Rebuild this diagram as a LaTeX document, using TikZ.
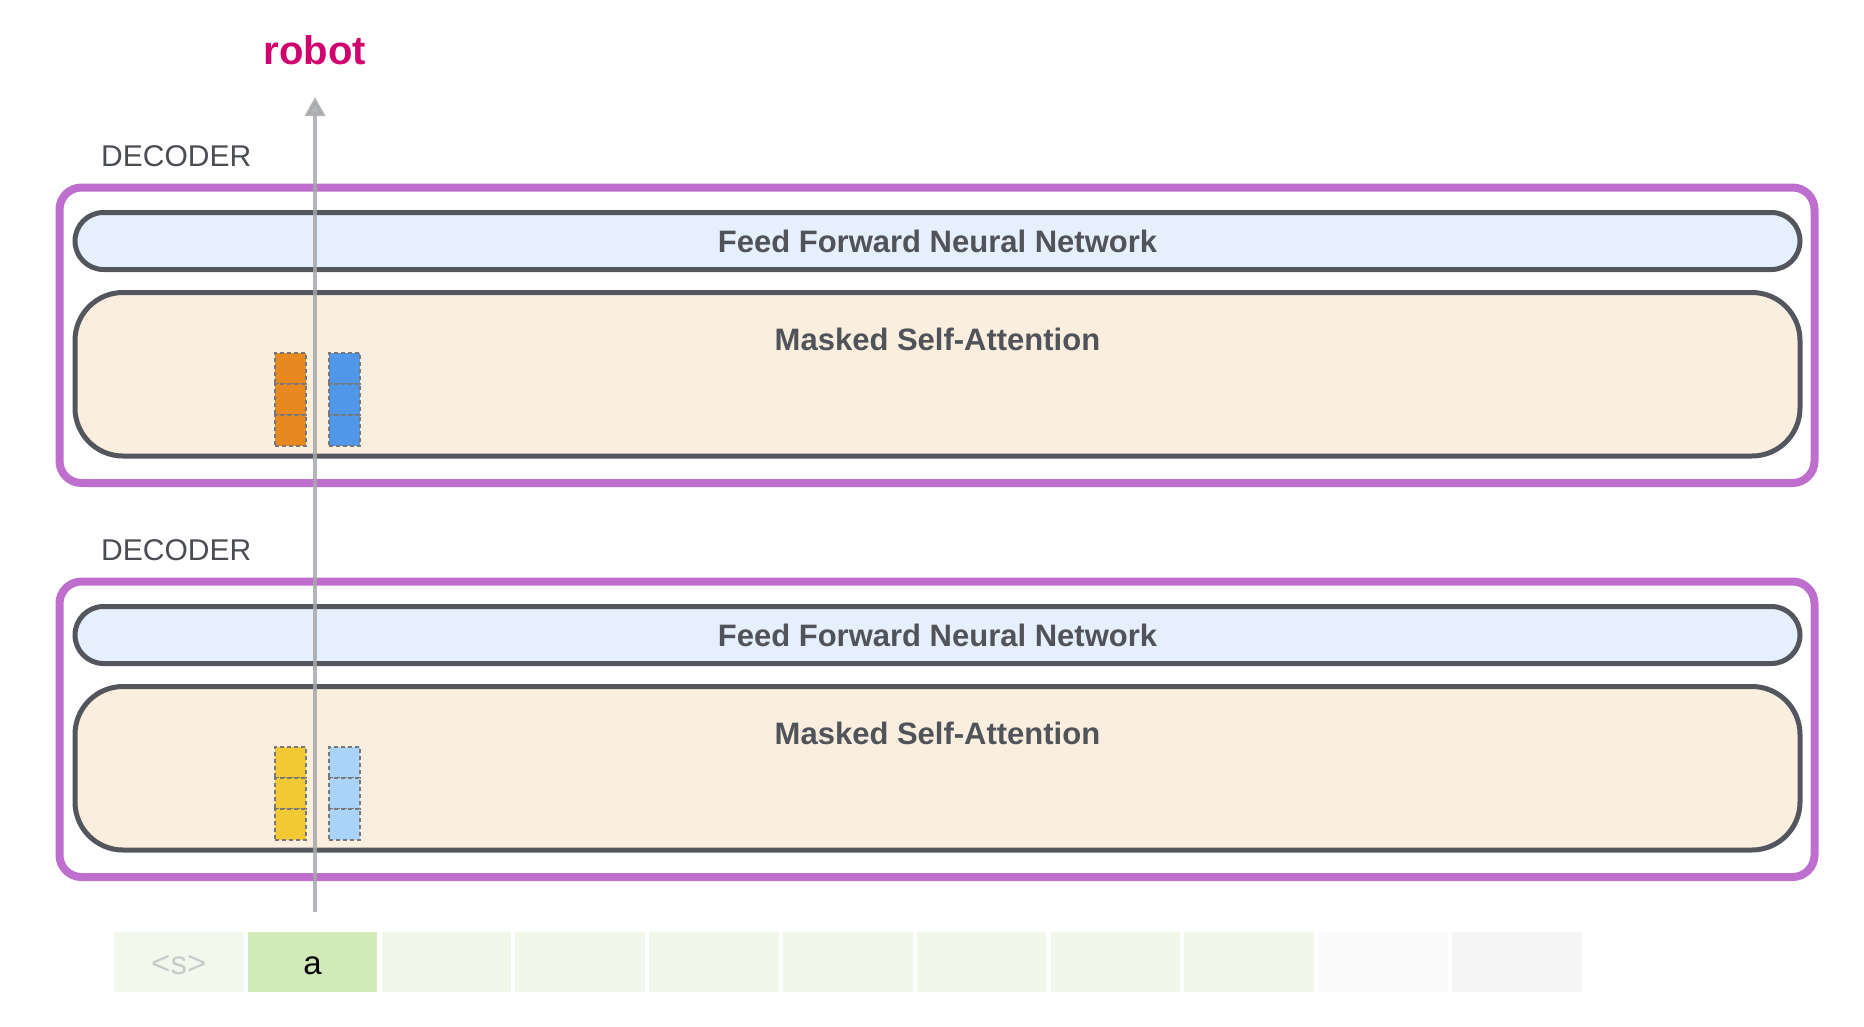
\documentclass[tikz,border=0pt]{standalone}
\usepackage{fontspec}
\setmainfont{Liberation Sans}
\usetikzlibrary{arrows.meta}

\begin{document}
\begin{tikzpicture}[x=1pt, y=-1pt,
        decoderbox/.style={draw=Pcolor, line width=8pt, rounded corners=22pt, minimum width=1755pt, minimum height=295.5pt, inner sep=0pt},
        ffnnbox/.style={draw=Ecolor, fill=Fcolor, line width=5pt, rounded corners=28.5pt, minimum width=1725pt, minimum height=57pt, inner sep=0pt, text=Tcolor, font=\fontsize{31}{37}\selectfont\bfseries},
        msabox/.style={draw=Ecolor, fill=Mcolor, line width=5pt, rounded corners=48pt, minimum width=1725pt, minimum height=163.5pt, inner sep=0pt},
        blocktext/.style={inner sep=0pt, text=Tcolor, font=\fontsize{31}{37}\selectfont\bfseries},
        decodertext/.style={anchor=west, inner sep=0pt, text=Lcolor, font=\fontsize{30}{36}\selectfont},
        vcell/.style={draw=Dcolor, line width=1.8pt, dash pattern=on 4pt off 3pt, minimum size=31pt, inner sep=0pt},
        token/.style={minimum width=129.5pt, minimum height=60pt, inner sep=0pt, text height=24pt, text depth=0pt, font=\fontsize{33}{40}\selectfont},
        outarrow/.style={draw=Acolor, line width=3.5pt, opacity=0.85, -{Triangle[length=19pt, width=20pt]}}]
    \definecolor{Pcolor}{RGB}{190, 111, 205}
    \definecolor{Ecolor}{RGB}{83, 87, 93}
    \definecolor{Fcolor}{RGB}{230, 240, 252}
    \definecolor{Mcolor}{RGB}{250, 238, 223}
    \definecolor{Tcolor}{RGB}{80, 83, 89}
    \definecolor{Lcolor}{RGB}{74, 77, 82}
    \definecolor{Dcolor}{RGB}{120, 120, 120}
    \definecolor{Acolor}{RGB}{166, 168, 171}
    \definecolor{Rcolor}{RGB}{208, 0, 111}
    \definecolor{Ocolor}{RGB}{232, 137, 31}
    \definecolor{Bcolor}{RGB}{80, 151, 233}
    \definecolor{Ycolor}{RGB}{242, 201, 50}
    \definecolor{Scolor}{RGB}{170, 211, 250}
    \definecolor{Gcolor}{RGB}{210, 234, 184}
    \definecolor{Hcolor}{RGB}{241, 248, 233}
    \def\tokx{178.75}
    \def\toky{962}
    \def\tokstep{133.8}
    \def\shift{394}
    \useasboundingbox (0, 0) rectangle (1864, 1026);
    \node[decoderbox] (dec1) at (937, 335.25) {};
    \node[decodertext] (dec1text) at (101, 156) {DECODER};
    \node[ffnnbox] (ffnn1) at (937.5, 241) {Feed Forward Neural Network};
    \node[msabox] (msa1) at (937.5, 374.25) {};
    \node[blocktext] (msa1text) at (937.5, 339) {Masked Self-Attention};
    \node[vcell, fill=Ocolor] (o1) at (290.5, 368.5) {};
    \node[vcell, fill=Ocolor] (o2) at (290.5, 399.5) {};
    \node[vcell, fill=Ocolor] (o3) at (290.5, 430.5) {};
    \node[vcell, fill=Bcolor] (b1) at (344.5, 368.5) {};
    \node[vcell, fill=Bcolor] (b2) at (344.5, 399.5) {};
    \node[vcell, fill=Bcolor] (b3) at (344.5, 430.5) {};
    \node[decoderbox] (dec2) at (937, {335.25+\shift}) {};
    \node[decodertext] (dec2text) at (101, {156+\shift}) {DECODER};
    \node[ffnnbox] (ffnn2) at (937.5, {241+\shift}) {Feed Forward Neural Network};
    \node[msabox] (msa2) at (937.5, {374.25+\shift}) {};
    \node[blocktext] (msa2text) at (937.5, {339+\shift}) {Masked Self-Attention};
    \node[vcell, fill=Ycolor] (y1) at (290.5, {368.5+\shift}) {};
    \node[vcell, fill=Ycolor] (y2) at (290.5, {399.5+\shift}) {};
    \node[vcell, fill=Ycolor] (y3) at (290.5, {430.5+\shift}) {};
    \node[vcell, fill=Scolor] (s1) at (344.5, {368.5+\shift}) {};
    \node[vcell, fill=Scolor] (s2) at (344.5, {399.5+\shift}) {};
    \node[vcell, fill=Scolor] (s3) at (344.5, {430.5+\shift}) {};
    \node[token, fill={rgb,255:red,243;green,248;blue,237}, text={rgb,255:red,200;green,204;blue,200}] (tok1) at (\tokx, \toky) {<s>};
    \node[token, fill=Gcolor, text=black] (tok2) at ({\tokx+\tokstep}, \toky) {a};
    \node[token, fill=Hcolor] (tok3) at ({\tokx+2*\tokstep}, \toky) {};
    \node[token, fill=Hcolor] (tok4) at ({\tokx+3*\tokstep}, \toky) {};
    \node[token, fill=Hcolor] (tok5) at ({\tokx+4*\tokstep}, \toky) {};
    \node[token, fill=Hcolor] (tok6) at ({\tokx+5*\tokstep}, \toky) {};
    \node[token, fill=Hcolor] (tok7) at ({\tokx+6*\tokstep}, \toky) {};
    \node[token, fill=Hcolor] (tok8) at ({\tokx+7*\tokstep}, \toky) {};
    \node[token, fill=Hcolor] (tok9) at ({\tokx+8*\tokstep}, \toky) {};
    \node[token, fill={rgb,255:red,250;green,250;blue,250}] (tok10) at ({\tokx+9*\tokstep}, \toky) {};
    \node[token, fill={rgb,255:red,245;green,245;blue,245}] (tok11) at ({\tokx+10*\tokstep}, \toky) {};
    \node[inner sep=0pt, anchor=base, text=Rcolor, font=\fontsize{40}{48}\selectfont\bfseries] (robot) at (315, 64) {robot};
    \coordinate (foot) at (315, 912);
    \coordinate (tip) at (315, 97);
    \draw[outarrow] (foot) -- (tip);
\end{tikzpicture}
\end{document}
